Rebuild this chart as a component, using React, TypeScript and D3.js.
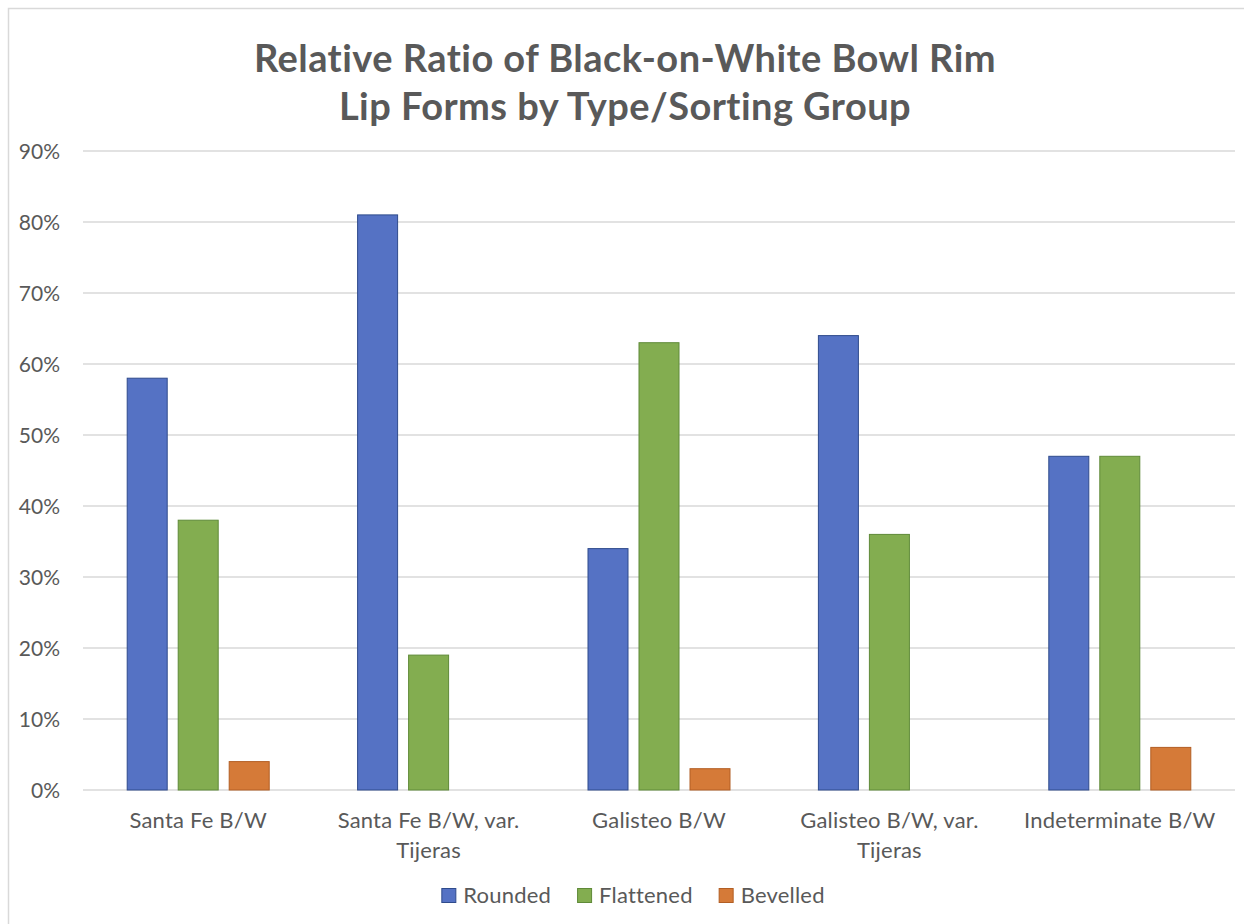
import React, { useEffect, useRef } from "react";
import * as d3 from "d3";

const categories = [
  "Santa Fe B/W",
  "Santa Fe B/W, var. Tijeras",
  "Galisteo B/W",
  "Galisteo B/W, var. Tijeras",
  "Indeterminate B/W",
];
const seriesNames = ["Rounded", "Flattened", "Bevelled"];
const rounded = [58, 81, 34, 64, 47];
const flattened = [38, 19, 63, 36, 47];
const bevelled = [4, 0, 3, 0, 6];
const yTicks = [0, 10, 20, 30, 40, 50, 60, 70, 80, 90];
const titleLines = ["Relative Ratio of Black-on-White Bowl Rim", "Lip Forms by Type/Sorting Group"];

const fills = ["#5572C4", "#83AD50", "#D57A38"];
const strokes = ["#2F4B8C", "#5F8A38", "#B25E24"];

const W = 1244;
const H = 924;
const FONT = "Lato, 'Open Sans', sans-serif";
const TEXT = "#595959";

export default function App() {
  const ref = useRef<SVGSVGElement>(null);

  useEffect(() => {
    const svg = d3.select(ref.current);
    svg.selectAll("*").remove();

    const margin = { left: 83, right: 9, top: 151, bottom: 134 };
    const x0 = d3.scaleBand<string>().domain(categories).range([margin.left, W - margin.right]).paddingInner(0).paddingOuter(0);
    const innerPad = (x0.bandwidth() - 143) / 2;
    const x1 = d3.scaleBand<string>().domain(seriesNames).range([innerPad, x0.bandwidth() - innerPad]).paddingInner(10 / 51);
    const y = d3.scaleLinear().domain([0, 90]).range([H - margin.bottom, margin.top]);

    svg.append("rect").attr("x", 0).attr("y", 0).attr("width", W).attr("height", H).attr("fill", "#fff");
    // chart frame
    svg.append("path").attr("d", `M8.5,${H} V8.5 H${W}`).attr("fill", "none").attr("stroke", "#d9d9d9").attr("stroke-width", 1.5);

    // title
    const title = svg.append("text").attr("text-anchor", "middle").attr("font-family", FONT).attr("font-weight", 700)
      .attr("font-size", 38).attr("letter-spacing", 0.45).attr("fill", TEXT);
    titleLines.forEach((t, i) => {
      title.append("tspan").attr("x", 625).attr("y", 72 + i * 48).text(t);
    });

    // gridlines
    svg.append("g").selectAll("line").data(yTicks).join("line")
      .attr("x1", margin.left).attr("x2", W - margin.right)
      .attr("y1", (d) => y(d)).attr("y2", (d) => y(d))
      .attr("stroke", "#d9d9d9").attr("stroke-width", 1.3);

    // y labels
    svg.append("g").selectAll("text").data(yTicks).join("text")
      .attr("x", 60).attr("y", (d) => y(d)).attr("dy", "0.36em").attr("text-anchor", "end")
      .attr("font-family", FONT).attr("font-size", 21).attr("fill", TEXT)
      .text((d) => `${d}%`);

    // bars
    const series = [rounded, flattened, bevelled];
    const g = svg.append("g");
    categories.forEach((c, ci) => {
      seriesNames.forEach((s, si) => {
        const v = series[si][ci];
        if (v <= 0) return;
        g.append("rect")
          .attr("x", (x0(c) as number) + (x1(s) as number) + 0.5)
          .attr("y", y(v))
          .attr("width", x1.bandwidth() - 1)
          .attr("height", y(0) - y(v))
          .attr("fill", fills[si]).attr("stroke", strokes[si]).attr("stroke-width", 1);
      });
    });

    // category labels, wrapped to band width
    const labelG = svg.append("g").attr("font-family", FONT).attr("font-size", 22).attr("letter-spacing", 0.2)
      .attr("fill", TEXT).attr("text-anchor", "middle");
    categories.forEach((c) => {
      const cx = (x0(c) as number) + x0.bandwidth() / 2;
      const t = labelG.append("text").attr("x", cx).attr("y", 828);
      const words = c.split(" ");
      let line: string[] = [];
      let lineNo = 0;
      let tspan = t.append("tspan").attr("x", cx).attr("y", 828);
      words.forEach((w) => {
        line.push(w);
        tspan.text(line.join(" "));
        if ((tspan.node() as SVGTSpanElement).getComputedTextLength() > 215 && line.length > 1) {
          line.pop();
          tspan.text(line.join(" "));
          line = [w];
          lineNo += 1;
          tspan = t.append("tspan").attr("x", cx).attr("y", 828 + lineNo * 30).text(w);
        }
      });
    });

    // legend
    const legend = svg.append("g").attr("font-family", FONT).attr("font-size", 22).attr("letter-spacing", 0.2)
      .attr("fill", TEXT);
    const items = seriesNames.map((s, i) => {
      const gi = legend.append("g");
      gi.append("rect").attr("x", 0.5).attr("y", -14.5).attr("width", 14).attr("height", 14)
        .attr("fill", fills[i]).attr("stroke", strokes[i]).attr("stroke-width", 1);
      const tx = gi.append("text").attr("x", 22).attr("y", 0).text(s);
      const w = 22 + (tx.node() as SVGTextElement).getComputedTextLength();
      return { gi, w };
    });
    const gap = 26;
    const total = d3.sum(items, (d) => d.w) + gap * (items.length - 1);
    let lx = 633 - total / 2;
    items.forEach((it) => {
      it.gi.attr("transform", `translate(${lx},903)`);
      lx += it.w + gap;
    });
  }, []);

  return (
    <svg ref={ref} width={W} height={H} style={{ position: "absolute", left: 0, top: 0, display: "block" }} />
  );
}
